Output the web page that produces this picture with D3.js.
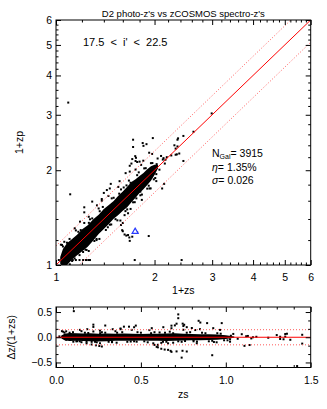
<!DOCTYPE html>
<html>
<head>
<meta charset="utf-8">
<script src="https://cdn.jsdelivr.net/npm/d3@7"></script>
<style>
  body { margin: 0; background: #fff; }
  svg { display: block; }
  text { font-family: "Liberation Sans", Arial, sans-serif; fill: #000; }
</style>
</head>
<body>
<div id="chart"></div>
<script>
// spectroscopic z / photometric z of the individual galaxies
const specZ = [
  0.09, 0.72, 0.84, 0.89, 0.72, 1.35, 1.35, 1.63, 1.32, 1.15, 1.45, 1.14, 0.92, 0.64, 0.77,
  0.105, 0.22, 0.29, 0.38, 0.46, 0.55, 0.68, 0.70, 0.75, 0.80, 0.82, 0.66, 0.62, 0.58, 0.60,
  0.33, 0.28, 0.21, 0.18, 0.62, 0.71, 0.74, 1.42, 1.99,
  0.02, 0.05, 0.08, 0.125, 0.15, 0.18, 0.21, 0.235, 0.255, 0.27,
  0.22, 0.22, 0.06, 0.035, 0.93, 0.81, 0.043, 0.38, 0.43, 0.47, 0.40, 0.68, 0.71, 0.755,
  0.85, 0.976, 0.60, 0.675, 1.45, 1.044, 1.094, 1.13, 1.16, 1.18, 1.25, 1.32, 1.36, 1.34,
  1.38, 1.30, 1.11, 1.025, 0.77, 0.746, 0.593, 0.66, 0.68, 0.75, 0.642,
  0.141, 0.184, 0.259, 0.334, 0.446, 0.564, 0.632, 0.848, 0.926, 0.966,
  0.102, 0.259, 0.357, 0.475, 0.573, 0.69, 0.829, 0.946, 1.025,
  0.08, 0.12, 0.17, 0.23, 0.27, 0.31, 0.36, 0.42, 0.48, 0.52, 0.58, 0.63, 0.67, 0.72,
  0.77, 0.81, 0.86, 0.90, 0.95, 0.99, 1.03, 1.07, 1.12,
  0.05, 0.06, 0.10, 0.14, 0.19, 0.24, 0.29, 0.33, 0.39, 0.44, 0.50, 0.54, 0.61, 0.65,
  0.69, 0.74, 0.79, 0.83, 0.88, 0.92, 0.97, 1.01, 0.26, 0.46, 0.56, 0.76, 0.35, 0.15
];
const photoZ = [
  2.28, 1.50, 1.44, 1.42, 1.37, 1.50, 1.38, 1.65, 1.24, 1.10, 1.14, 0.81, 0.236, 0.24, 0.27,
  0.677, 0.525, 0.59, 0.62, 0.75, 0.77, 0.98, 1.10, 1.14, 1.13, 1.08, 0.46, 0.44, 0.34, 0.36,
  0.20, 0.215, 0.10, 0.075, 0.25, 0.23, 0.037, 0.037, 2.03,
  0.037, 0.037, 0.037, 0.037, 0.037, 0.037, 0.037, 0.037, 0.037, 0.037,
  0.47, 0.36, 0.185, 0.16, 0.75, 0.71, 0.158, 0.60, 0.73, 0.81, 0.694, 1.066, 1.17, 1.19,
  1.39, 1.53, 0.28, 0.223, 1.57, 1.179, 1.22, 1.185, 1.16, 1.20, 1.228, 1.343, 1.525, 1.246,
  1.26, 1.40, 0.75, 0.944, 1.124, 1.217, 0.29, 0.245, 0.193, 1.01, 0.79,
  0.308, 0.373, 0.423, 0.547, 0.657, 0.846, 0.958, 1.144, 1.273, 1.253,
  0.005, 0.108, 0.21, 0.345, 0.384, 0.507, 0.61, 0.751, 0.847,
  0.177, 0.030, 0.275, 0.119, 0.397, 0.192, 0.482, 0.292, 0.628, 0.398, 0.738, 0.483, 0.854, 0.582,
  0.929, 0.665, 1.027, 0.748, 1.106, 0.871, 1.091, 1.008, 1.162,
  0.145, 0.007, 0.21, 0.049, 0.291, 0.116, 0.406, 0.21, 0.529, 0.318, 0.635, 0.386, 0.763, 0.502,
  0.825, 0.583, 0.969, 0.674, 1.03, 0.786, 1.108, 0.889, 0.361, 0.343, 0.685, 0.628, 0.512, 0.288
];

// dense core of the relation: envelope of dz/(1+zs) along zs
const bandZ  = [0.03, 0.05, 0.08, 0.12, 0.16, 0.20, 0.25, 0.30, 0.35, 0.40, 0.45, 0.50, 0.55,
                0.60, 0.65, 0.70, 0.75, 0.80, 0.85, 0.90, 0.95, 1.00, 1.05];
const bandHi = [0.03, 0.07, 0.085, 0.08, 0.075, 0.08, 0.07, 0.075, 0.07, 0.075, 0.07, 0.065, 0.07,
                0.07, 0.075, 0.08, 0.07, 0.065, 0.06, 0.06, 0.055, 0.04, 0.015];
const bandLo = [-0.02, -0.06, -0.075, -0.07, -0.075, -0.08, -0.085, -0.08, -0.07, -0.07, -0.07, -0.065, -0.07,
                -0.07, -0.075, -0.07, -0.065, -0.06, -0.06, -0.055, -0.05, -0.035, -0.01];

// flagged object (blue triangle)
const flagZs = [0.745];
const flagZp = [0.276];

const outlierCut = 0.15;
const logMajor = [1, 2, 3, 4, 5, 6];
const logMinor = [1.2, 1.4, 1.6, 1.8, 2.2, 2.4, 2.6, 2.8, 3.2, 3.4, 3.6, 3.8,
                  4.2, 4.4, 4.6, 4.8, 5.2, 5.4, 5.6, 5.8];
const zsMajor = [0, 0.5, 1.0, 1.5];
const dzMajor = [-0.5, 0, 0.5];

const titleText = "D2 photo-z's vs zCOSMOS spectro-z's";
const magText = "17.5 < i' < 22.5";
const nGal = 3915, eta = "1.35%", sigma = "0.026";

const W = 327, H = 409;
const svg = d3.select("#chart").append("svg").attr("width", W).attr("height", H);

const pts = specZ.map((z, i) => ({ zs: z, zp: photoZ[i] }));
const band = bandZ.map((z, i) => ({ zs: z, lo: bandLo[i], hi: bandHi[i] }));

function frameAxes(g, x, y, r, xMaj, xMin, yMaj, yMin) {
  const add = (gen, vals, size, tr) => {
    const a = g.append("g").attr("transform", tr)
      .call(gen.tickValues(vals).tickSize(-size).tickSizeOuter(0).tickFormat(""));
    a.select(".domain").remove();
    a.selectAll("line").attr("stroke", "#000");
  };
  add(d3.axisBottom(x), xMin, 2.5, `translate(0,${r.bottom})`);
  add(d3.axisTop(x), xMaj, 5, `translate(0,${r.top})`);
  add(d3.axisTop(x), xMin, 2.5, `translate(0,${r.top})`);
  add(d3.axisLeft(y), yMin, 2.5, `translate(${r.left},0)`);
  add(d3.axisRight(y), yMaj, 5, `translate(${r.right},0)`);
  add(d3.axisRight(y), yMin, 2.5, `translate(${r.right},0)`);
  g.append("rect")
    .attr("x", r.left).attr("y", r.top)
    .attr("width", r.right - r.left).attr("height", r.bottom - r.top)
    .attr("fill", "none").attr("stroke", "#000").attr("stroke-width", 1);
}

function labelAxis(g, gen, tr, pad, fmt) {
  const a = g.append("g").attr("transform", tr)
    .call(gen.tickSize(-5).tickSizeOuter(0).tickPadding(pad).tickFormat(fmt));
  a.select(".domain").remove();
  a.selectAll("line").attr("stroke", "#000");
  a.attr("font-family", "Liberation Sans, Arial, sans-serif").attr("font-size", 10.5);
  return a;
}

// ---------- top panel: 1+zp vs 1+zs ----------
const m = { left: 56, right: 310.7, top: 20, bottom: 265 };
const x = d3.scaleLog().domain([1, 6]).range([m.left, m.right]);
const y = d3.scaleLog().domain([1, 6]).range([m.bottom, m.top]);

svg.append("clipPath").attr("id", "clipMain").append("rect")
  .attr("x", m.left).attr("y", m.top).attr("width", m.right - m.left).attr("height", m.bottom - m.top);

const gMain = svg.append("g");
const plotMain = gMain.append("g").attr("clip-path", "url(#clipMain)");

plotMain.append("path")
  .datum(band)
  .attr("fill", "#000")
  .attr("d", d3.area()
    .x(d => x(1 + d.zs))
    .y0(d => y((1 + d.zs) * (1 + d.lo)))
    .y1(d => y((1 + d.zs) * (1 + d.hi))));

plotMain.selectAll("rect.pt")
  .data(pts)
  .join("rect")
  .attr("class", "pt")
  .attr("x", d => x(1 + d.zs) - 1)
  .attr("y", d => y(1 + d.zp) - 1)
  .attr("width", 2).attr("height", 2)
  .attr("fill", "#000");

const ratioLine = k => d3.line()(d3.extent(x.domain()).map(v => [x(v), y(v * k)]));
plotMain.append("path").attr("d", ratioLine(1))
  .attr("stroke", "#f00").attr("stroke-width", 1).attr("fill", "none");
[1 + outlierCut, 1 - outlierCut].forEach(k => {
  plotMain.append("path").attr("d", ratioLine(k))
    .attr("stroke", "#ff5a5a").attr("stroke-width", 1).attr("stroke-dasharray", "1,2")
    .attr("fill", "none");
});

plotMain.selectAll("path.flag")
  .data(flagZs.map((z, i) => ({ zs: z, zp: flagZp[i] })))
  .join("path")
  .attr("class", "flag")
  .attr("transform", d => `translate(${x(1 + d.zs)},${y(1 + d.zp)})`)
  .attr("d", d3.symbol(d3.symbolTriangle, 16))
  .attr("fill", "#fff").attr("stroke", "#2a3cff").attr("stroke-width", 1.2);

frameAxes(gMain, x, y, m, logMajor, logMinor, logMajor, logMinor);
labelAxis(gMain, d3.axisBottom(x).tickValues(logMajor), `translate(0,${m.bottom})`, 9, d3.format("d"));
labelAxis(gMain, d3.axisLeft(y).tickValues(logMajor), `translate(${m.left},0)`, 4, d3.format("d"));

gMain.append("text").attr("x", (m.left + m.right) / 2).attr("y", 16.5)
  .attr("text-anchor", "middle").attr("font-size", 9.5).text(titleText);
gMain.append("text").attr("x", 83).attr("y", 45.7)
  .attr("font-size", 11).attr("word-spacing", 3).text(magText);
gMain.append("text").attr("x", (m.left + m.right) / 2).attr("y", 294)
  .attr("text-anchor", "middle").attr("font-size", 10.5).text("1+zs");
gMain.append("text")
  .attr("transform", `translate(23,${(m.top + m.bottom) / 2}) rotate(-90)`)
  .attr("text-anchor", "middle").attr("font-size", 10.5).text("1+zp");

const leg = gMain.append("g").attr("font-size", 10.5);
const l1 = leg.append("text").attr("x", 212).attr("y", 157);
l1.append("tspan").text("N");
l1.append("tspan").attr("font-size", 7).attr("dy", 2).text("Gal");
l1.append("tspan").attr("dy", -2).text("= " + nGal);
const l2 = leg.append("text").attr("x", 212).attr("y", 170.5);
l2.append("tspan").attr("font-style", "italic").text("\u03b7");
l2.append("tspan").text("= " + eta);
const l3 = leg.append("text").attr("x", 212).attr("y", 184);
l3.append("tspan").attr("font-style", "italic").text("\u03c3");
l3.append("tspan").text("= " + sigma);

// ---------- bottom panel: dz/(1+zs) vs zs ----------
const b = { left: 56, right: 310.7, top: 307, bottom: 367.5 };
const xb = d3.scaleLinear().domain([0, 1.5]).range([b.left, b.right]);
const yb = d3.scaleLinear().domain([-0.6, 0.6]).range([b.bottom, b.top]);

svg.append("clipPath").attr("id", "clipRes").append("rect")
  .attr("x", b.left).attr("y", b.top).attr("width", b.right - b.left).attr("height", b.bottom - b.top);

const gRes = svg.append("g");
const plotRes = gRes.append("g").attr("clip-path", "url(#clipRes)");

plotRes.append("path")
  .datum(band)
  .attr("fill", "#000")
  .attr("d", d3.area().x(d => xb(d.zs)).y0(d => yb(d.lo)).y1(d => yb(d.hi)));

const resPts = pts.concat(flagZs.map((z, i) => ({ zs: z, zp: flagZp[i] })))
  .map(d => ({ zs: d.zs, dz: (d.zp - d.zs) / (1 + d.zs) }));

plotRes.selectAll("rect.pt")
  .data(resPts)
  .join("rect")
  .attr("class", "pt")
  .attr("x", d => xb(d.zs) - 1)
  .attr("y", d => yb(d.dz) - 1)
  .attr("width", 2).attr("height", 2)
  .attr("fill", "#000");

plotRes.append("line")
  .attr("x1", b.left).attr("x2", b.right).attr("y1", yb(0)).attr("y2", yb(0))
  .attr("stroke", "#f00").attr("stroke-width", 1);
[outlierCut, -outlierCut].forEach(v => {
  plotRes.append("line")
    .attr("x1", b.left).attr("x2", b.right).attr("y1", yb(v)).attr("y2", yb(v))
    .attr("stroke", "#ff5a5a").attr("stroke-width", 1).attr("stroke-dasharray", "1,2");
});

const zsMinor = d3.range(0.1, 1.5, 0.1).filter(v => Math.abs(v - 0.5) > 1e-6 && Math.abs(v - 1) > 1e-6);
const dzMinor = [-1 / 3, -1 / 6, 1 / 6, 1 / 3];
frameAxes(gRes, xb, yb, b, zsMajor, zsMinor, dzMajor, dzMinor);
labelAxis(gRes, d3.axisBottom(xb).tickValues(zsMajor), `translate(0,${b.bottom})`, 9, d3.format(".1f"));
labelAxis(gRes, d3.axisLeft(yb).tickValues(dzMajor), `translate(${b.left},0)`, 4, d3.format(".1f"))
  .selectAll("text").text(d => d3.format(".1f")(d).replace("-", "\u2212"));

gRes.append("text").attr("x", (b.left + b.right) / 2).attr("y", 398)
  .attr("text-anchor", "middle").attr("font-size", 10.5).text("zs");
gRes.append("text")
  .attr("transform", `translate(15,${(b.top + b.bottom) / 2}) rotate(-90)`)
  .attr("text-anchor", "middle").attr("font-size", 10.5).text("\u0394z/(1+zs)");
</script>
</body>
</html>
